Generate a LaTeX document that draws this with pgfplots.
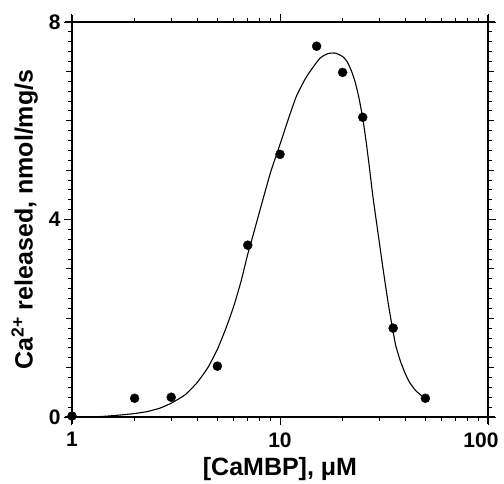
\documentclass[border=0pt]{standalone}
\usepackage{pgfplots}
\pgfplotsset{compat=1.18}
\usepackage{fontspec}
\setmainfont{Liberation Sans}
\begin{document}
\begin{tikzpicture}
\begin{axis}[
  name=ax,
  scale only axis,
  width=416pt, height=395pt,
  xmode=log, xmin=1, xmax=100, ymin=0, ymax=8,
  axis lines=box, separate axis lines,
  axis line style={line width=1.3pt, shorten >=-7pt, shorten <=-7pt},
  tick align=outside,
  major tick length=8pt, minor tick length=4pt,
  every tick/.style={black, line width=1pt},
  xtick={1,10,100}, xticklabels={1,10,{\hspace*{-14pt}100}},
  minor xtick={2,3,4,5,6,7,8,9,20,30,40,50,60,70,80,90},
  ytick={0,4,8}, yticklabels={0,4,8},
  minor ytick={0,0.2,...,8},
  extra y ticks={1,2,3,5,6,7}, extra y tick labels={},
  extra tick style={major tick length=6pt},
  /pgf/number format/assume math mode=true,
  ticklabel style={font=\bfseries\fontsize{21}{21}\selectfont},
  xticklabel style={yshift=-4pt},
  xlabel={[CaMBP], μM},
  ylabel={Ca\textsuperscript{2+} released, nmol/mg/s},
  label style={font=\bfseries\fontsize{25}{26}\selectfont},
  xlabel style={yshift=-3pt},
  ylabel style={yshift=-10pt},
  clip=false,
]
\addplot[black, line width=1.1pt, smooth, tension=0.3] coordinates {
(1.27,0.0)(1.5,0.02)(1.7,0.04)(2.0,0.07)(2.3,0.11)(2.65,0.18)(3.0,0.28)(3.5,0.45)(4.0,0.70)(4.5,1.0)(5.0,1.37)(5.5,1.80)(6.0,2.25)(6.5,2.75)(7.0,3.30)(7.5,3.75)(8.0,4.18)(9.0,4.95)(10,5.52)(11,6.05)(12,6.50)(13.4,6.89)(15.5,7.26)(17,7.36)(18.5,7.37)(20,7.30)(21,7.20)(22,7.02)(23,6.78)(24,6.45)(25,6.05)(26,5.55)(27,5.0)(28,4.45)(29,3.99)(30,3.55)(31.2,3.04)(33,2.35)(34.4,1.90)(36,1.45)(38,1.12)(40,0.88)(42,0.70)(45,0.53)(49.7,0.38)
};
\addplot[only marks, mark=*, mark size=4.5pt, black] coordinates {
(1,0.02)(2,0.38)(3,0.40)(5,1.03)(7,3.48)(10,5.32)(15,7.51)(20,6.98)(25,6.07)(35,1.80)(50,0.38)
};
\end{axis}
\path ([shift={(-72pt,-64pt)}]ax.south west) rectangle ++(504pt,481pt);
\end{tikzpicture}
\end{document}
